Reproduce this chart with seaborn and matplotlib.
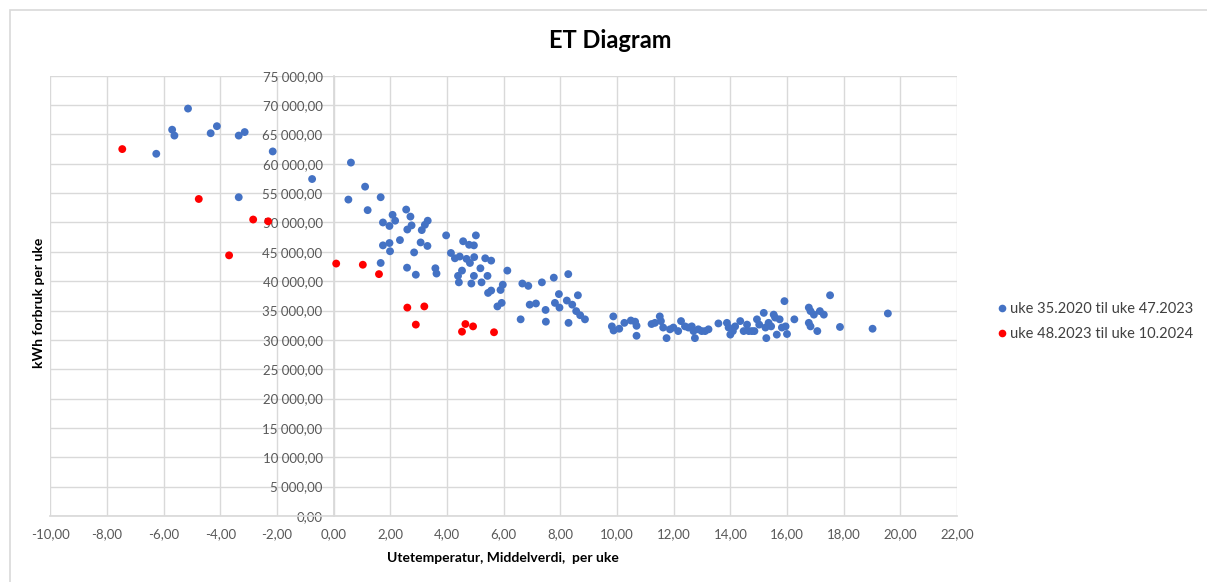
import matplotlib
matplotlib.use("Agg")
import matplotlib.pyplot as plt
from matplotlib.lines import Line2D
from matplotlib.patches import Rectangle
from matplotlib.ticker import FuncFormatter, MultipleLocator
import pandas as pd
import seaborn as sns

# Weekly mean outdoor temperature vs. weekly kWh consumption
BLUE_LABEL = "uke 35.2020 til uke 47.2023"
RED_LABEL = "uke 48.2023 til uke 10.2024"

blue_temp = [
    -6.26, -5.70, -5.62, -5.14, -4.34, -4.12, -3.35, -3.14, -3.35, -2.15, -0.76,
    0.61, 1.11, 0.52, 1.66, 1.20, 2.56, 2.08, 2.71, 1.74, 1.97, 2.17, 3.32, 3.22,
    2.75, 2.60, 3.11, 2.34, 1.74, 1.97, 1.99, 3.07, 3.31, 2.84, 3.97, 5.02, 4.57,
    4.78, 4.95, 4.14, 4.28, 4.45, 4.69, 4.81, 4.96, 5.35, 5.56, 1.66, 2.59, 2.90,
    3.59, 3.63, 4.39, 4.53, 4.42, 4.86, 4.95, 5.18, 5.22, 5.43, 6.13, 5.45, 5.56,
    5.89, 5.97, 5.78, 5.93, 6.66, 6.87, 7.35, 7.77, 8.28, 6.92, 7.14, 7.48, 6.60,
    7.49, 7.95, 7.81, 7.97, 8.23, 8.42, 8.62, 8.56, 8.70, 8.87, 8.29, 9.87, 9.82,
    9.88, 10.08, 10.26, 10.49, 10.64, 10.69, 10.69, 11.22, 11.34, 11.51, 11.55,
    11.63, 11.75, 11.87, 11.99, 12.16, 12.26, 12.40, 12.52, 12.64, 12.70, 12.75,
    12.87, 12.99, 13.11, 13.23, 13.58, 13.88, 13.94, 14.00, 14.09, 14.17, 14.35,
    14.47, 14.59, 14.65, 14.76, 14.85, 14.94, 15.02, 15.18, 15.24, 15.27, 15.35,
    15.44, 15.53, 15.58, 15.64, 15.74, 15.82, 15.91, 15.95, 16.00, 16.26, 16.77,
    16.83, 16.77, 16.83, 16.95, 17.07, 17.16, 17.30, 17.52, 17.87, 19.02, 19.56,
]
blue_kwh = [
    61700, 65800, 64800, 69400, 65200, 66400, 64800, 65400, 54300, 62100, 57400,
    60200, 56100, 53900, 54300, 52100, 52200, 51300, 51000, 50000, 49400, 50300, 50300, 49600,
    49500, 48800, 48700, 47000, 46100, 46500, 45100, 46600, 46000, 44900, 47800, 47800, 46800,
    46200, 46100, 44800, 43900, 44200, 43800, 43100, 44100, 43900, 43500, 43100, 42300, 41100,
    42200, 41300, 40900, 41800, 39800, 39600, 40900, 42200, 39800, 40900, 41800, 38000, 38400,
    38500, 39400, 35700, 36300, 39600, 39200, 39800, 40600, 41200, 36000, 36200, 35100, 33500,
    33100, 37800, 36300, 35500, 36700, 36000, 37600, 34900, 34200, 33500, 32900, 34000, 32300,
    31600, 31900, 32900, 33300, 33100, 32400, 30700, 32700, 32900, 34000, 33200,
    32100, 30300, 31800, 32100, 31500, 33200, 32300, 32100, 32300, 31500, 30300,
    31800, 31500, 31500, 31800, 32800, 32900, 32100, 30900, 31500, 32300, 33200,
    31500, 32600, 31500, 31500, 31500, 33500, 32600, 34600, 32100, 30300, 32900,
    32300, 34300, 33800, 30900, 33500, 32100, 36600, 32300, 31000, 33500, 35500,
    34900, 32900, 32300, 34300, 31500, 34900, 34300, 37600, 32200, 31900, 34500,
]

red_temp = [-7.46, -4.76, -2.84, -2.31, -3.69, 0.09, 1.03, 1.60, 2.60, 3.20,
            2.90, 4.65, 4.53, 4.92, 5.66]
red_kwh = [62500, 54000, 50500, 50200, 44400, 43000, 42800, 41200, 35500, 35700,
           32600, 32700, 31400, 32300, 31300]

BLUE = "#4472C4"
RED = "#FF0000"
GRID = "#D9D9D9"
TICK = "#595959"


def fmt_num(v, _pos=None, thousands=False):
    s = f"{v:,.2f}" if thousands else f"{v:.2f}"
    return s.replace(",", " ").replace(".", ",")


df = pd.concat([
    pd.DataFrame({"temp": blue_temp, "kwh": blue_kwh, "periode": BLUE_LABEL}),
    pd.DataFrame({"temp": red_temp, "kwh": red_kwh, "periode": RED_LABEL}),
])

sns.set_theme(style="white")
plt.rcParams["font.family"] = ["Lato", "DejaVu Sans"]

fig = plt.figure(figsize=(12.07, 5.82), dpi=100)
ax = fig.add_axes([50.3 / 1207, 1 - 516 / 582, (957 - 50.3) / 1207, (516 - 75.7) / 582])

sns.scatterplot(
    data=df, x="temp", y="kwh", hue="periode",
    palette={BLUE_LABEL: BLUE, RED_LABEL: RED},
    s=32, linewidth=0, ax=ax, legend=False, zorder=3, clip_on=False,
)

ax.set_xlim(-10, 22)
ax.set_ylim(0, 75000)
ax.xaxis.set_major_locator(MultipleLocator(2))
ax.yaxis.set_major_locator(MultipleLocator(5000))
ax.xaxis.set_major_formatter(FuncFormatter(fmt_num))
ax.yaxis.set_major_formatter(FuncFormatter(lambda v, p: fmt_num(v, p, thousands=True)))
ax.grid(True, color=GRID, linewidth=1)
ax.set_axisbelow(True)
ax.tick_params(axis="both", length=0, labelsize=9.5, labelcolor=TICK)
ax.tick_params(axis="x", pad=9)
ax.tick_params(axis="y", pad=8)
ax.set_xlabel("")
ax.set_ylabel("")

for side in ("top", "right"):
    ax.spines[side].set_visible(False)
ax.spines["left"].set_position(("data", 0))
ax.spines["left"].set_color(GRID)
ax.spines["bottom"].set_color(GRID)

# Excel-style chart border
fig.add_artist(Rectangle((10 / 1207, -0.1), 2, 1.1 - 10 / 582, transform=fig.transFigure,
                         fill=False, edgecolor=GRID, linewidth=1.2))

fig.text(610 / 1207, 1 - 40 / 582, "ET Diagram", ha="center", va="center",
         fontsize=17, fontweight="bold", color="#000000")
fig.text(503 / 1207, 1 - 558 / 582, "Utetemperatur, Middelverdi,  per uke", ha="center",
         va="center", fontsize=10, fontweight="bold", color="#000000")
fig.text(39 / 1207, 1 - 303 / 582, "kWh forbruk per uke", ha="center", va="center",
         rotation=90, fontsize=10, fontweight="bold", color="#000000")

handles = [
    Line2D([], [], marker="o", linestyle="", markersize=5.5, color=BLUE, markeredgewidth=0),
    Line2D([], [], marker="o", linestyle="", markersize=5.5, color=RED, markeredgewidth=0),
]
fig.legend(handles, [BLUE_LABEL, RED_LABEL], loc="upper left",
           bbox_to_anchor=(990 / 1207, 1 - 296 / 582), frameon=False,
           fontsize=10.5, labelcolor="#404040", handlelength=0.8, handletextpad=0.2,
           labelspacing=0.75, borderaxespad=0)

fig.savefig("out.png", dpi=100)
